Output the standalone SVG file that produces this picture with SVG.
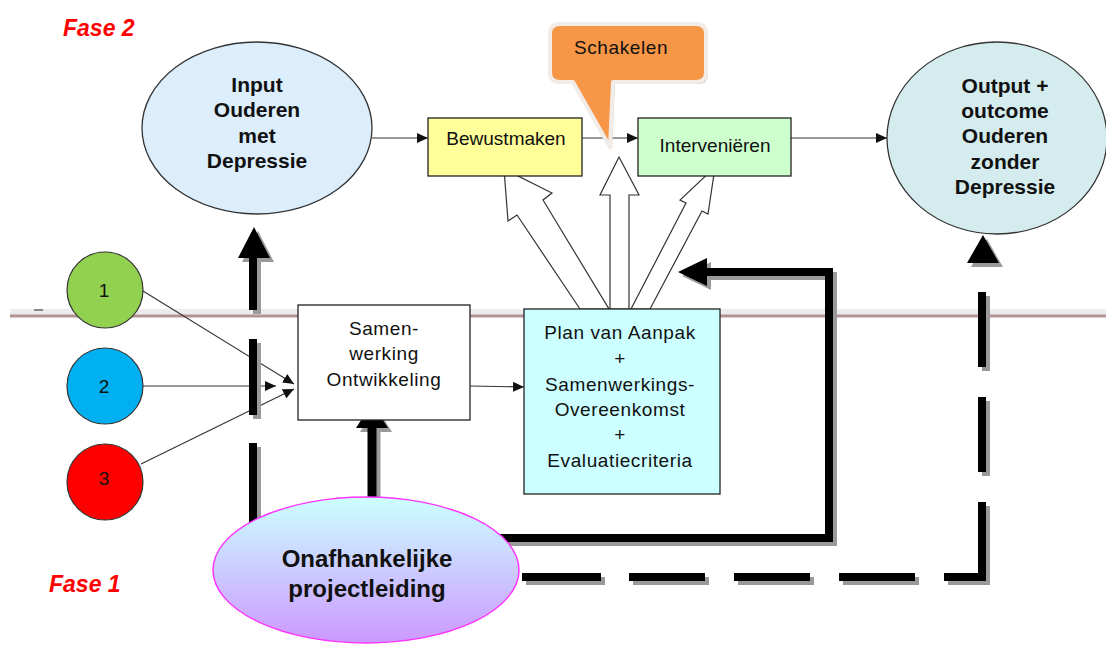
<svg xmlns="http://www.w3.org/2000/svg" xmlns:xlink="http://www.w3.org/1999/xlink" width="1106" height="647" viewBox="0 0 1106 647">
<style>
.t{font-family:"Liberation Sans",Arial,sans-serif;fill:#111;text-anchor:middle}
.r{font-size:19px;letter-spacing:0.6px}
.n{letter-spacing:0}
.b{font-size:21px;font-weight:bold}
.thin{stroke:#333;stroke-width:1.2;fill:none}
.box{stroke:#222;stroke-width:1.3}
.hollow{fill:#fff;stroke:#333;stroke-width:1.2;stroke-linejoin:miter}
.fase{font-family:"Liberation Sans",Arial,sans-serif;font-size:23px;font-weight:bold;font-style:italic;fill:#ff0000}
</style>
<defs>
<marker id="ah" markerUnits="userSpaceOnUse" markerWidth="12" markerHeight="10" refX="11" refY="5" orient="auto">
<path d="M0,0 L11,5 L0,10 Z" fill="#111"/>
</marker>
<linearGradient id="pg" x1="0" y1="0" x2="0" y2="1">
<stop offset="0" stop-color="#ccffff"/>
<stop offset="1" stop-color="#cc99ff"/>
</linearGradient>
<g id="thick">
<path d="M253,525 V443 M253,415 V339 M253,310 V256" fill="none" stroke="currentColor" stroke-width="8"/>
<polygon points="238,258 254,227 270,258" fill="currentColor"/>
<path d="M372,504 V427" fill="none" stroke="currentColor" stroke-width="9"/>
<polygon points="356,428 372,403 388,428" fill="currentColor"/>
<path d="M500,538 H829 V272 H705" fill="none" stroke="currentColor" stroke-width="8" stroke-linejoin="miter"/>
<polygon points="707,258 678,272 707,286" fill="currentColor"/>
<path d="M522,577 H601 M629,577 H705 M734,577 H810 M839,577 H915 M944,577 H982 V502 M982,472 V397 M982,367 V292" fill="none" stroke="currentColor" stroke-width="8" stroke-linejoin="miter"/>
<polygon points="967,263 983,235 999,263" fill="currentColor"/>
</g>
</defs>
<rect width="1106" height="647" fill="#fff"/>

<g id="divider">
<rect x="10" y="309" width="1096" height="6" fill="#ececec"/>
<line x1="10" y1="316" x2="1106" y2="316" stroke="#b39494" stroke-width="3"/>
<line x1="34" y1="310" x2="43" y2="310" stroke="#666" stroke-width="1.5"/>
</g>

<g id="labels">
<text class="fase" x="63" y="36">Fase 2</text>
<text class="fase" x="49" y="592">Fase 1</text>
</g>

<g id="connectors">
<polygon class="hollow" points="580,309 517,215 508,221 504,169 552,193 543,200 609,309"/>
<polygon class="hollow" points="610,309 610,195 600,195 619,157 639,195 629,195 629,309"/>
<polygon class="hollow" points="631,309 686,203 680,200 715,167 708,214 702,211 650,309"/>
<line class="thin" x1="372" y1="138" x2="428" y2="138" marker-end="url(#ah)"/>
<line class="thin" x1="582" y1="138" x2="638" y2="138" marker-end="url(#ah)"/>
<line class="thin" x1="791" y1="138" x2="887" y2="138" marker-end="url(#ah)"/>
<line class="thin" x1="143" y1="291" x2="294" y2="384" marker-end="url(#ah)"/>
<line class="thin" x1="143" y1="386" x2="276" y2="386" marker-end="url(#ah)"/>
<line class="thin" x1="141" y1="464" x2="294" y2="389" marker-end="url(#ah)"/>
<line class="thin" x1="470" y1="386" x2="524" y2="387" marker-end="url(#ah)"/>
<use xlink:href="#thick" href="#thick" transform="translate(4,4)" color="#9a9a9a"/>
<use xlink:href="#thick" href="#thick" color="#000"/>
</g>

<g id="bewustmaken">
<rect class="box" x="428" y="118" width="154" height="58" fill="#ffff99"/>
<text class="t r n" x="506" y="145">Bewustmaken</text>
</g>
<g id="interventie">
<rect class="box" x="638" y="118" width="153" height="58" fill="#ccffcc"/>
<text class="t r n" x="715" y="152">Interveniëren</text>
</g>

<g id="input">
<ellipse cx="257" cy="128" rx="115" ry="86" fill="#dcedfb" stroke="#333" stroke-width="1.3"/>
<text class="t b" x="257" y="92">Input</text>
<text class="t b" x="257" y="117">Ouderen</text>
<text class="t b" x="257" y="143">met</text>
<text class="t b" x="257" y="168">Depressie</text>
</g>

<g id="output">
<ellipse cx="997" cy="138" rx="110" ry="96" fill="#d5ecee" stroke="#333" stroke-width="1.3"/>
<text class="t b" x="1005" y="93">Output +</text>
<text class="t b" x="1005" y="118">outcome</text>
<text class="t b" x="1005" y="143">Ouderen</text>
<text class="t b" x="1005" y="169">zonder</text>
<text class="t b" x="1005" y="194">Depressie</text>
</g>

<g id="schakelen">
<path d="M563,26 H698 Q708,26 708,36 V74 Q708,84 698,84 H615 L612,149 L575,84 H563 Q553,84 553,74 V36 Q553,26 563,26 Z" fill="#d9c3b0"/>
<path d="M560,24 H696 Q706,24 706,34 V72 Q706,82 696,82 H613 L610,147 L573,82 H560 Q550,82 550,72 V34 Q550,24 560,24 Z" fill="#f79646" stroke="#f1ece8" stroke-width="4" stroke-linejoin="round"/>
<text class="t r" x="621" y="54">Schakelen</text>
</g>

<g id="p1">
<circle cx="105" cy="290" r="38" fill="#92d050" stroke="#333" stroke-width="1.2"/>
<text class="t r n" x="104" y="297">1</text>
</g>
<g id="p2">
<circle cx="105" cy="386" r="38" fill="#00b0f0" stroke="#333" stroke-width="1.2"/>
<text class="t r n" x="104" y="393">2</text>
</g>
<g id="p3">
<circle cx="105" cy="482" r="38" fill="#ff0000" stroke="#333" stroke-width="1.2"/>
<text class="t r n" x="104" y="485">3</text>
</g>

<g id="samenwerking">
<rect class="box" x="298" y="305" width="172" height="115" fill="#fff"/>
<text class="t r" x="384" y="335">Samen-</text>
<text class="t r" x="384" y="360">werking</text>
<text class="t r" x="384" y="386">Ontwikkeling</text>
</g>

<g id="plan">
<rect class="box" x="524" y="309" width="196" height="185" fill="#ccffff"/>
<text class="t r" x="620" y="339">Plan van Aanpak</text>
<text class="t r" x="620" y="365">+</text>
<text class="t r" x="620" y="391">Samenwerkings-</text>
<text class="t r" x="620" y="416">Overeenkomst</text>
<text class="t r" x="620" y="441">+</text>
<text class="t r" x="620" y="467">Evaluatiecriteria</text>
</g>

<g id="projectleiding">
<ellipse cx="366" cy="570" rx="153" ry="73" fill="url(#pg)" stroke="#ff33ff" stroke-width="1.5"/>
<text class="t" x="367" y="567" style="font-size:24px;font-weight:bold">Onafhankelijke</text>
<text class="t" x="367" y="597" style="font-size:24px;font-weight:bold">projectleiding</text>
</g>
</svg>
